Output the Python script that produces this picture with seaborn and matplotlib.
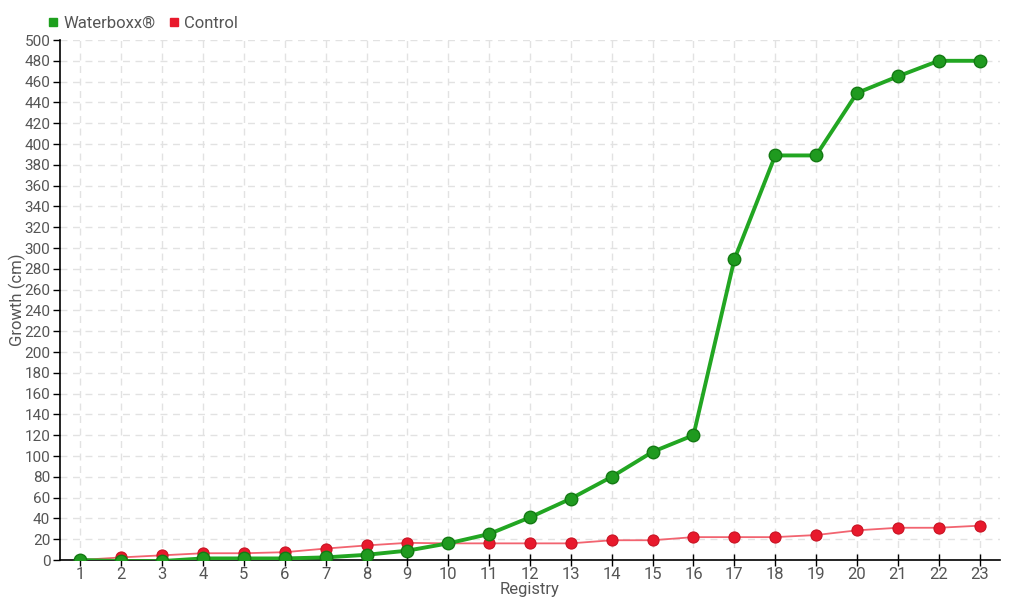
import pandas as pd
import matplotlib.pyplot as plt
import seaborn as sns
from matplotlib.lines import Line2D

registry = list(range(1, 24))
waterboxx = [0, -1, -1, 1.5, 1.5, 1.5, 2.5, 5, 9, 16, 25, 41, 59, 80, 104, 120,
             289, 389, 389, 449, 465, 480, 480]
control = [0, 2.5, 4.5, 6.5, 6.5, 7.5, 11, 14, 16.5, 16, 16, 16, 16, 19, 19, 22,
           22, 22, 24, 28.5, 31, 31, 33]

GREEN = "#1ea01e"
RED = "#e8192c"

sns.set_theme(style="white")
plt.rcParams['font.family'] = ['Roboto', 'DejaVu Sans']

df = pd.DataFrame({"Registry": registry, "Waterboxx": waterboxx, "Control": control})

fig = plt.figure(figsize=(10.2, 6), dpi=100)
ax = fig.add_axes([60 / 1020, 40 / 600, 940 / 1020, 520 / 600])

sns.lineplot(data=df, x="Registry", y="Control", ax=ax, color="#f26470", linewidth=1.3,
             marker="o", markersize=8, markerfacecolor=RED, markeredgecolor="#c81424",
             markeredgewidth=0.8, zorder=3)
sns.lineplot(data=df, x="Registry", y="Waterboxx", ax=ax, color="#22a622", linewidth=2.8,
             marker="o", markersize=9, markerfacecolor="#1f9a1f", markeredgecolor="#137a13",
             markeredgewidth=1, zorder=4)

ax.set_xlim(0.5, 23.5)
ax.set_ylim(0, 500)
ax.set_xticks(registry)
ax.set_yticks(range(0, 501, 20))
ax.grid(True, color="#e2e2e2", linestyle=(0, (5, 4)), linewidth=1)
for s in ["top", "right"]:
    ax.spines[s].set_visible(False)
for s in ["left", "bottom"]:
    ax.spines[s].set_color("black")
    ax.spines[s].set_linewidth(1.2)
ax.tick_params(axis="y", left=True, length=5, width=1, color="black", labelsize=11,
               labelcolor="#555555", pad=2)
ax.tick_params(axis="x", bottom=True, direction="inout", length=8, width=1, color="black",
               labelsize=12, labelcolor="#555555", pad=1)
ax.set_xlabel("Registry", fontsize=12, color="#555555", labelpad=0)
ax.set_ylabel("Growth (cm)", fontsize=12, color="#555555")
ax.yaxis.set_label_coords(-34 / 940, 0.5)

handles = [Line2D([], [], linestyle="none", marker="s", markersize=6, color=GREEN),
           Line2D([], [], linestyle="none", marker="s", markersize=6, color=RED)]
fig.legend(handles, ["Waterboxx®", "Control"], loc="upper left",
           bbox_to_anchor=(30 / 1020, 1 - 1 / 600), ncol=2, frameon=False,
           fontsize=12, labelcolor="#555555", handletextpad=0.1, columnspacing=0.6,
           handlelength=1)

fig.savefig("out.png", dpi=100)
